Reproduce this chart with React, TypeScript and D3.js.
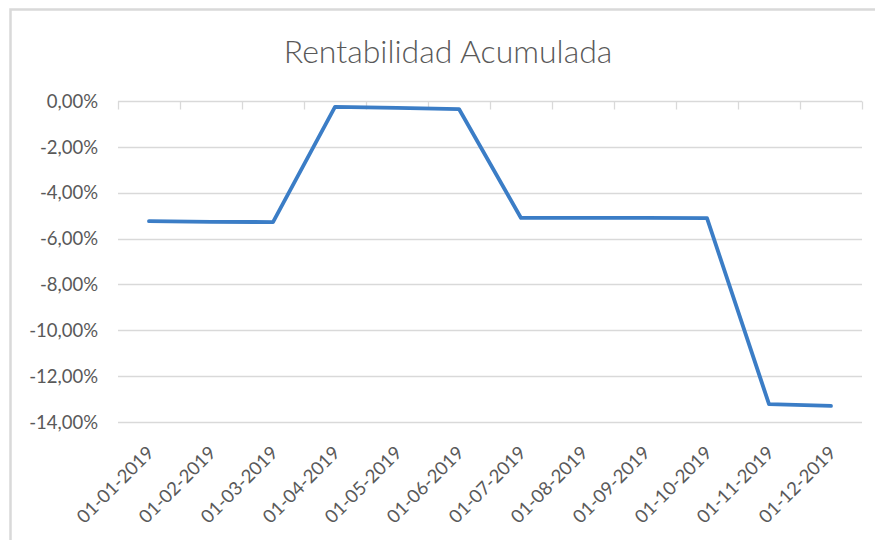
import { useEffect, useRef } from 'react';
import * as d3 from 'd3';

const fechas = [
  '01-01-2019', '01-02-2019', '01-03-2019', '01-04-2019', '01-05-2019', '01-06-2019',
  '01-07-2019', '01-08-2019', '01-09-2019', '01-10-2019', '01-11-2019', '01-12-2019',
];
const rentabilidad = [-5.24, -5.27, -5.28, -0.26, -0.3, -0.35, -5.1, -5.1, -5.1, -5.11, -13.22, -13.3];
const yTicks = [0, -2, -4, -6, -8, -10, -12, -14];

const W = 875;
const H = 540;

export default function App() {
  const ref = useRef<SVGSVGElement | null>(null);

  useEffect(() => {
    if (!ref.current) return;
    const svg = d3.select(ref.current);
    svg.selectAll('*').remove();

    const font = 'Lato, "Open Sans", sans-serif';
    const textColor = '#595959';
    const gridColor = '#d9d9d9';

    // chart frame
    svg.append('rect')
      .attr('width', W).attr('height', H).attr('fill', '#fff');
    svg.append('rect')
      .attr('x', 10.5).attr('y', 9.5)
      .attr('width', W + 10).attr('height', H + 10)
      .attr('fill', 'none')
      .attr('stroke', '#d9d9d9')
      .attr('stroke-width', 2.5);

    const x = d3.scaleBand<string>()
      .domain(fechas)
      .range([118, 862]);

    const y = d3.scaleLinear()
      .domain([-14, 0])
      .range([422, 101]);

    // title
    svg.append('text')
      .attr('x', 448).attr('y', 63)
      .attr('text-anchor', 'middle')
      .style('font-family', font)
      .style('font-size', '32px')
      .style('font-weight', 300)
      .style('fill', textColor)
      .text('Rentabilidad Acumulada');

    // gridlines
    svg.append('g')
      .selectAll('line')
      .data(yTicks)
      .join('line')
      .attr('x1', 118).attr('x2', 862)
      .attr('y1', d => Math.round(y(d)) + 0.5)
      .attr('y2', d => Math.round(y(d)) + 0.5)
      .attr('stroke', gridColor)
      .attr('stroke-width', 1.3);

    // y labels
    svg.append('g')
      .selectAll('text')
      .data(yTicks)
      .join('text')
      .attr('x', 98)
      .attr('y', d => y(d))
      .attr('dy', '0.36em')
      .attr('text-anchor', 'end')
      .style('font-family', font)
      .style('font-size', '18.5px')
      .style('fill', textColor)
      .text(d => d3.format('.2f')(d).replace('.', ',').replace('−', '-') + '%');

    // category ticks on the 0 axis
    const bounds = fechas.map(f => x(f) as number).concat([862]);
    svg.append('g')
      .selectAll('line')
      .data(bounds)
      .join('line')
      .attr('x1', d => Math.round(d) + 0.5)
      .attr('x2', d => Math.round(d) + 0.5)
      .attr('y1', Math.round(y(0)) + 0.5)
      .attr('y2', Math.round(y(0)) + 8.5)
      .attr('stroke', gridColor)
      .attr('stroke-width', 1.3);

    // x labels
    svg.append('g')
      .selectAll('text')
      .data(fechas)
      .join('text')
      .attr('transform', d => `translate(${(x(d) as number) + x.bandwidth() / 2 + 6},${454}) rotate(-45)`)
      .attr('text-anchor', 'end')
      .style('font-family', font)
      .style('font-size', '18.5px')
      .style('fill', textColor)
      .text(d => d);

    // line
    const line = d3.line<number>()
      .x((_, i) => (x(fechas[i]) as number) + x.bandwidth() / 2)
      .y(d => y(d));

    svg.append('path')
      .datum(rentabilidad)
      .attr('d', line)
      .attr('fill', 'none')
      .attr('stroke', '#3b7dc6')
      .attr('stroke-width', 3.8)
      .attr('stroke-linecap', 'round')
      .attr('stroke-linejoin', 'round');
  }, []);

  return (
    <svg
      ref={ref}
      width={W}
      height={H}
      style={{ position: 'absolute', left: 0, top: 0 }}
    />
  );
}
